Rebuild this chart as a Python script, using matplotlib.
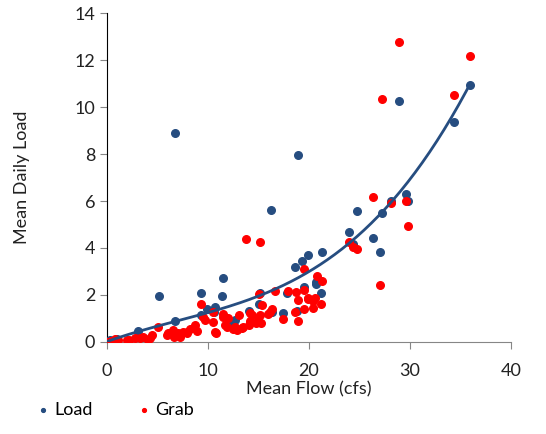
import numpy as np
from matplotlib import pyplot as plt

# Load series (blue)
load_x = [0.3, 1.0, 3.1, 5.15, 6.7, 6.7, 9.3, 9.3, 9.9, 10.6, 10.7, 11.4, 11.5,
          12.5, 12.7, 14.1, 15.0, 15.1, 16.2, 16.3, 17.4, 17.8, 18.6, 18.8, 18.9,
          19.3, 19.5, 19.9, 20.7, 20.7, 21.2, 21.3, 24.0, 24.4, 24.7, 26.3, 27.0,
          27.2, 28.1, 28.9, 29.6, 29.8, 34.4, 35.9]
load_y = [0.08, 0.12, 0.45, 1.96, 0.89, 8.9, 1.15, 2.08, 1.40, 1.28, 1.49, 1.96, 2.72,
          0.81, 0.94, 1.32, 1.62, 2.08, 5.6, 1.28, 1.23, 2.08, 3.19, 1.32, 7.96,
          3.45, 2.34, 3.70, 2.55, 2.45, 2.08, 3.83, 4.68, 4.17, 5.57, 4.43, 3.83,
          5.5, 6.0, 10.25, 6.3, 6.0, 9.36, 10.94]

# Grab series (red)
grab_x = [0.0, 0.4, 0.8, 1.1, 2.0, 2.2, 2.8, 3.3, 3.6, 4.1, 4.3, 4.5, 5.0, 5.9,
          6.0, 6.5, 6.6, 6.7, 7.0, 7.2, 7.5, 7.9, 7.9, 8.2, 8.7, 8.9, 9.3, 9.5,
          9.7, 10.5, 10.5, 10.7, 10.8, 11.5, 11.5, 11.7, 11.9, 12.0, 12.5, 12.7,
          12.9, 13.1, 13.4, 13.5, 13.8, 14.1, 14.2, 14.2, 14.4, 14.7, 14.9, 15.0,
          15.1, 15.1, 15.2, 15.3, 15.9, 16.1, 16.3, 16.6, 17.4, 17.9, 18.6, 18.7,
          18.9, 18.9, 19.5, 19.5, 19.5, 19.9, 19.9, 20.4, 20.4, 20.6, 20.8, 21.2,
          21.3, 24.0, 24.4, 24.7, 26.3, 27.0, 27.2, 28.1, 28.9, 29.6, 29.8, 34.4,
          35.9]
grab_y = [0.02, 0.05, 0.13, 0.08, 0.09, 0.10, 0.17, 0.17, 0.21, 0.09, 0.17, 0.30, 0.64, 0.30,
          0.38, 0.51, 0.20, 0.30, 0.38, 0.21, 0.43, 0.43, 0.38, 0.55, 0.72, 0.47, 1.62, 1.06,
          0.94, 0.85, 1.28, 0.43, 0.38, 1.06, 1.19, 0.72, 0.64, 1.02, 0.55, 0.64,
          0.51, 1.15, 0.60, 0.64, 4.38, 0.72, 1.23, 0.89, 1.15, 0.81, 0.94, 2.04,
          1.15, 4.26, 0.81, 1.57, 1.19, 1.28, 1.40, 2.17, 0.98, 2.17, 1.28, 2.13,
          1.79, 0.89, 1.40, 2.20, 3.11, 1.83, 1.87, 1.74, 1.45, 1.87, 2.81, 1.62,
          2.60, 4.26, 4.04, 3.96, 6.17, 2.43, 10.34, 5.9, 12.77, 6.0, 4.94, 10.5,
          12.17]

# trendline (3rd order polynomial, as shown on the chart), highest power first
trend_coef = [0.000278, -0.00576, 0.1529, 0.02]

blue = "#264D80"
red = "#FF0000"

plt.rcParams['font.family'] = ['Lato', 'DejaVu Sans']

fig = plt.figure(figsize=(5.46, 4.34), dpi=100)
ax = fig.add_axes([0.196, 0.212, 0.740, 0.758])

ax.scatter(load_x, load_y, s=30, color=blue, label="Load", zorder=3)
ax.scatter(grab_x, grab_y, s=30, color=red, label="Grab", zorder=4)

xs = np.linspace(0, max(load_x), 200)
ax.plot(xs, np.polyval(trend_coef, xs), color=blue, linewidth=2, zorder=5)

ax.set_xlim(0, 40)
ax.set_ylim(0, 14)
ax.set_xticks([0, 10, 20, 30, 40])
ax.set_yticks(range(0, 15, 2))
ax.spines['top'].set_visible(False)
ax.spines['right'].set_visible(False)
ax.spines['bottom'].set_color("#868686")
ax.spines['left'].set_color("black")
ax.tick_params(axis='both', direction='out', length=5, color="#868686",
               labelsize=13, labelcolor="#222222")
ax.tick_params(axis='x', pad=10)
ax.set_xlabel("Mean Flow (cfs)", fontsize=13, color="#222222", labelpad=2)
ax.set_ylabel("Mean Daily Load", fontsize=13, color="#222222")
ax.yaxis.set_label_coords(-0.19, 0.5)

fig.legend(loc="lower left", bbox_to_anchor=(0.036, 0.0), ncol=2, frameon=False,
           fontsize=13, markerscale=0.5, handlelength=0.8, handletextpad=0.25,
           columnspacing=2.4)

plt.savefig("out.png", dpi=100)
